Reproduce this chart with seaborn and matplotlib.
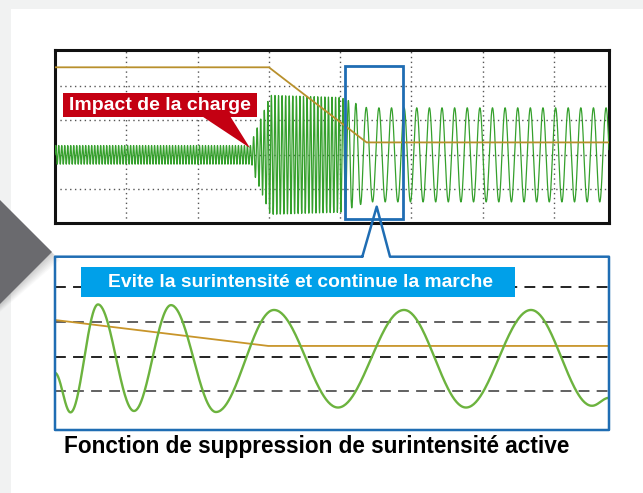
import numpy as np
import pandas as pd
import seaborn as sns
import matplotlib.pyplot as plt
from matplotlib.patches import Polygon, Rectangle
from matplotlib.lines import Line2D

# ---- data ----
# top scope trace (x in grid divisions, y in divisions from the zero line)
top_env_x = [0.0, 2.76, 2.78, 3.02, 4.00, 4.38, 7.77]
top_env_amp = [0.27, 0.27, 0.50, 1.72, 1.66, 1.36, 1.36]
top_per_x = [0.0, 2.76, 2.78, 4.00, 4.38, 7.77]
top_period = [0.042, 0.042, 0.050, 0.050, 0.177, 0.177]
top_freq_x = [0.0, 3.00, 4.37, 7.77]
top_freq_y = [2.53, 2.53, 0.36, 0.36]

# zoomed trace (x in % of the window, y in dashed-line spacings)
zoom_x = [0.0, 2.8, 7.76, 14.26, 20.94, 29.06, 39.53, 51.08, 63.0, 74.19, 85.92, 96.93, 100.0]
zoom_y = [-0.47, -1.61, 1.51, -1.57, 1.49, -1.60, 1.35, -1.47, 1.35, -1.47, 1.35, -1.42, -1.19]
zoom_freq_x = [0.0, 38.5, 100.0]
zoom_freq_y = [1.06, 0.31, 0.31]
zoom_dash_y = [2, 1, 0, -1]

label_impact = "Impact de la charge"
label_banner = "Evite la surintensité et continue la marche"
label_caption = "Fonction de suppression de surintensité active"

W, H = 643, 493
sns.set_style("white")
plt.rcParams['font.family'] = ['Liberation Sans', 'DejaVu Sans']

fig = plt.figure(figsize=(W / 100, H / 100), dpi=100)
fig.patch.set_facecolor('#f1f2f2')


def px(x, y):
    return (x / W, 1 - y / H)


def fig_rect(x0, y0, x1, y1, **kw):
    fig.patches.append(Rectangle(px(x0, y1), (x1 - x0) / W, (y1 - y0) / H,
                                 transform=fig.transFigure, figure=fig, **kw))


def fig_poly(pts, **kw):
    fig.patches.append(Polygon([px(*p) for p in pts], transform=fig.transFigure,
                               figure=fig, **kw))


def fig_line(pts, **kw):
    xs, ys = zip(*[px(*p) for p in pts])
    fig.lines.append(Line2D(xs, ys, transform=fig.transFigure, figure=fig, **kw))


# white page + grey arrow with soft shadow (behind the axes)
fig_rect(11, 9, W + 5, H + 5, facecolor='white', edgecolor='none', zorder=-3)
for k in range(8, 0, -1):
    fig_poly([(0, 200 + k), (52 + k, 252 + k), (0, 304 + k)],
             facecolor='black', edgecolor='none', alpha=0.025, zorder=-2)
fig_poly([(0, 200), (52, 252), (0, 304)], facecolor='#6a6a6e', edgecolor='none', zorder=-1)

# ---- top scope panel ----
ax = fig.add_axes([55 / W, 1 - 222.7 / H, (609 - 55) / W, (222.7 - 50) / H])
t = np.linspace(0, 7.77, 30000)
per = np.interp(t, top_per_x, top_period)
phase = 2 * np.pi * np.concatenate([[0], np.cumsum(np.diff(t) / per[1:])])
amp = np.interp(t, top_env_x, top_env_amp)
top_df = pd.DataFrame({'t': t, 'v': amp * np.sin(phase)})
sns.lineplot(data=top_df, x='t', y='v', ax=ax, color='#35a02c', lw=0.9,
             sort=False, estimator=None, zorder=3)
sns.lineplot(x=top_freq_x, y=top_freq_y, ax=ax, color='#b8902c', lw=1.3,
             sort=False, estimator=None, zorder=4)
ax.set_xlim(0, 7.77)
ax.set_ylim(-1.96, 3.03)
for gx in range(1, 8):
    ax.axvline(gx, color='#555555', lw=1, ls=(0, (1, 2.5)), zorder=1)
for gy in [-1, 0, 1, 2]:
    ax.axhline(gy, color='#555555', lw=1, ls=(0, (1, 2.5)), zorder=1)
ax.set_xticks([])
ax.set_yticks([])
ax.set_xlabel('')
ax.set_ylabel('')
for s in ax.spines.values():
    s.set_color('#111111')
    s.set_linewidth(2.2)

# "Impact de la charge" tag
fig_rect(63.3, 93.3, 256.7, 116.7, facecolor='#c40012', edgecolor='none', zorder=5)
fig_poly([(201.7, 116), (230, 116), (250, 148)], facecolor='#c40012', edgecolor='none', zorder=5)
fig.text(*px(160, 105.5), label_impact, color='white', fontsize=14, fontweight='bold',
         ha='center', va='center', zorder=6)

# blue window on the scope
fig_rect(345, 65.7, 403.3, 219.3, facecolor='none', edgecolor='#1f6db3', lw=2, zorder=6)

# ---- zoomed panel ----
bx = fig.add_axes([55 / W, 1 - 430 / H, (609 - 55) / W, (430 - 256.7) / H])
seg_x, seg_y = [], []
for i in range(len(zoom_x) - 1):
    s = np.linspace(0, 1, 60)
    seg_x.append(zoom_x[i] + s * (zoom_x[i + 1] - zoom_x[i]))
    seg_y.append(zoom_y[i] + (zoom_y[i + 1] - zoom_y[i]) * (1 - np.cos(np.pi * s)) / 2)
zoom_df = pd.DataFrame({'x': np.concatenate(seg_x), 'y': np.concatenate(seg_y)})
for yy, c in zip(zoom_dash_y, ['#111111', '#555555', '#111111', '#555555']):
    bx.axhline(yy, color=c, lw=1.3, ls=(0, (6, 4)), zorder=1)
sns.lineplot(x=zoom_freq_x, y=zoom_freq_y, ax=bx, color='#c8952a', lw=1.3,
             sort=False, estimator=None, zorder=3)
sns.lineplot(data=zoom_df, x='x', y='y', ax=bx, color='#6cb33e', lw=1.7,
             sort=False, estimator=None, zorder=4)
bx.set_xlim(0, 100)
bx.set_ylim(-2.12, 2.89)
bx.set_xticks([])
bx.set_yticks([])
bx.set_xlabel('')
bx.set_ylabel('')
for s in bx.spines.values():
    s.set_visible(False)
bx.patch.set_alpha(0)

# callout outline with pointer
fig_line([(362.3, 256.7), (376.7, 206.7), (390, 256.7), (609, 256.7), (609, 430),
          (55, 430), (55, 256.7), (362.3, 256.7)], color='#1f6db3', lw=1.8, zorder=7)

# banner
fig_rect(81, 267.3, 515, 296.7, facecolor='#00a0e9', edgecolor='none', zorder=8)
fig.text(*px(300, 282.5), label_banner, color='white', fontsize=13.9, fontweight='bold',
         ha='center', va='center', zorder=9)

fig.text(*px(63.5, 446), label_caption, color='black', fontsize=16.3, fontweight='bold',
         ha='left', va='center')

fig.savefig('out.png', dpi=100)
